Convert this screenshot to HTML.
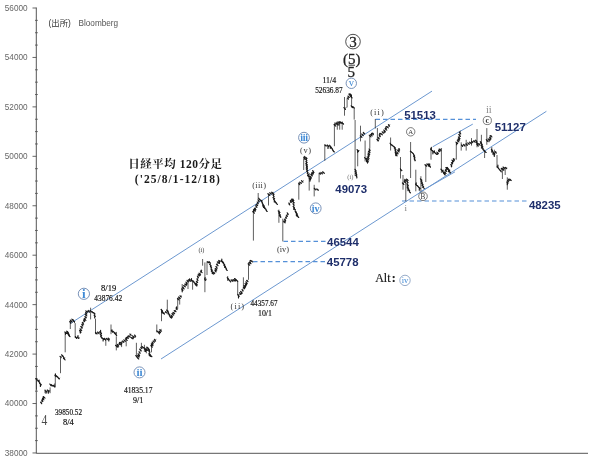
<!DOCTYPE html>
<html><head><meta charset="utf-8"><title>日経平均 120分足</title>
<style>
html,body{margin:0;padding:0;background:#fff}
svg{display:block}
.ax{font-family:"Liberation Sans",sans-serif;font-size:8.2px;fill:#666}
.src{font-family:"Liberation Sans","Noto Sans CJK JP",sans-serif;font-size:8px;fill:#555}
.ttl{font-family:"Liberation Serif","Noto Serif CJK SC",serif;font-size:11.5px;font-weight:bold;fill:#1a1a1a}
.num{font-family:"Liberation Serif","Noto Serif CJK SC",serif;font-size:9px;fill:#111;stroke:#111;stroke-width:0.18px}
.nv{font-family:"Liberation Sans",sans-serif;font-weight:bold;font-size:11.4px;fill:#1f2f6b}
.big{font-family:"Liberation Serif",serif;fill:#222;stroke:#222;stroke-width:0.3px}
.g4{font-family:"Liberation Serif",serif;font-size:15.5px;fill:#4a4a4a}
.sm{font-family:"Liberation Serif",serif;font-size:8.4px;fill:#383838}
.bl{font-family:"Liberation Serif",serif;font-weight:bold;fill:#3f8ad6}
</style></head><body>
<svg width="604" height="465" viewBox="0 0 604 465">
<rect width="604" height="465" fill="#fff"/>
<g fill="none">
<path d="M36.3 7.6V453.3H588" stroke="#555" stroke-width="1"/>
<path d="M32.5 8.00H36.5M35 20.36H37.8M35 32.72H37.8M35 45.08H37.8M32.5 57.44H36.5M35 69.80H37.8M35 82.16H37.8M35 94.52H37.8M32.5 106.88H36.5M35 119.24H37.8M35 131.60H37.8M35 143.96H37.8M32.5 156.32H36.5M35 168.68H37.8M35 181.04H37.8M35 193.40H37.8M32.5 205.76H36.5M35 218.12H37.8M35 230.48H37.8M35 242.84H37.8M32.5 255.20H36.5M35 267.56H37.8M35 279.92H37.8M35 292.28H37.8M32.5 304.64H36.5M35 317.00H37.8M35 329.36H37.8M35 341.72H37.8M32.5 354.08H36.5M35 366.44H37.8M35 378.80H37.8M35 391.16H37.8M32.5 403.52H36.5M35 415.88H37.8M35 428.24H37.8M35 440.60H37.8M32.5 452.96H36.5" stroke="#555" stroke-width="0.9"/>
<g stroke="#6c98d0" stroke-width="1">
<path d="M70 323.7L432 91.1"/>
<path d="M161 359L546.4 111.3"/>
<path d="M432.7 146.8L472.8 124.1"/>
<path d="M419 192.5L455 171.8"/>
</g>
<g stroke="#5590d8" stroke-width="1.2" stroke-dasharray="4.5 3">
<path d="M375.5 119.3H476"/>
<path d="M402 201H528"/>
<path d="M283.5 241.3H327"/>
<path d="M253 261.7H327"/>
</g>
<path d="M36.4 378V389.6M45 389.4V393.2M50.1 387.4V393.2M54.6 383.5V387.4M55.3 375.8V387.4M60.5 357.5V373.2M65.2 332.9V352.3M70.3 319.4V329M75.2 323.2V338M90.6 307.7V319.4M95.5 318.7V334.2M105.8 338.7V345.8M111 324.5V334.2M116.3 336.4V350.4M121.6 341.3V347.1M126.2 337.2V346.3M136.4 342.8V356.7M141.4 342.8V347.8M144.4 344.8V351.8M146.4 346.8V353.3M151.5 342.8V352.3M156.8 324.5V332.4M161.5 308.8V321.2M167.3 299.7V312M177.7 298.8V308.8M179.7 298V304.6M182.2 284V290.6M188 279.8V289M192.6 280.6V289.7M202.6 259V265.7M204.9 262.4V292.2M207 262V275M227.7 276V281M237.7 281.4V295.5M243.4 277.3V288M248.5 262.4V279.7M253.4 209.6V240.6M258.2 193V199.7M268.5 193.9V205.5M278.9 209.6V222.8M282.8 218.7V241.4M298.8 184V199.7M303.7 159V170M309.2 173V190.6M314.2 184.8V196.4M319.1 173V182.3M324.8 144.6V160.8M334.4 124.7V146.2M337.3 121.4V129.7M339.7 121.4V129.7M342.2 121.4V129.7M344.5 97V115.7M347.1 98.3V107.4M351.6 97V107.4M354.2 107.4V119.6M355.1 120V176M357.7 149.7V166.3M360.5 125.7V141.4M365.1 140.5V161.4M369.8 135.6V148.5M375.3 119V128.5M377.4 128V141.4M390.6 137.5V150.5M400.5 157V178.5M403 175V189.7M405.8 181.4V201.3M410.6 142V178M415.8 169.7V191.3M420.9 176.2V191.3M425.8 164.7V182M431 148V159.7M441.4 148V172.9M456.3 143V159.7M461.2 142.3V150.6M466.2 139.8V150.6M471.5 138.1V145.6M477 129V147.3M481.4 134.8V148.9M484.6 149.7V158M486.8 128.1V144.8M491.8 147V153M494.4 149.7V157M497 155V167.7M502.4 168V179M505.2 168V175M507.3 177.3V189.7" stroke="#2a2a2a" stroke-width="0.75"/>
<path d="M36.2 379.0L38.5 381.0L40.5 384.2M41.1 402.9L44.3 397.1M45.0 391.3L50.1 390.6M50.1 384.8L54.6 386.1M55.3 375.8L57.2 376.5L59.2 379.0L59.8 377.7M60.5 357.1L62.4 355.2L64.3 359.0L65.0 357.7M65.2 332.9L67.7 331.6L69.7 336.8M70.3 322.6L72.9 319.4L74.8 323.2M75.2 337.4L80.0 338.0M80.0 332.3L83.2 322.6L85.2 319.4L86.5 311.6L90.3 311.0L94.2 312.9L94.8 316.1M95.5 333.5L100.6 332.3L101.3 337.4L104.5 339.4L109.7 338.7M111.0 331.0L113.5 331.6L116.1 334.8M116.3 346.3L126.2 339.7L131.2 333.9M131.2 338.0L135.3 335.5M136.4 356.2L137.9 358.2L139.4 352.8L141.4 347.8M141.9 346.8L144.4 347.8L145.9 350.8L147.9 347.8L149.4 351.8L149.8 356.2L151.3 355.7M151.5 346.8L152.8 342.8L154.8 340.3L156.3 339.4M156.8 330.9L159.3 333.4L161.3 328.9M161.5 309.6L163.2 313.7L166.5 312.0M167.3 310.4L170.6 317.9L173.1 313.7L177.3 308.0M177.7 299.7L181.4 295.5M182.2 289.7L188.0 280.6L193.0 280.6L196.3 285.6L198.0 276.5L202.0 270.7M204.9 280.0L207.0 279.0M207.0 262.4L209.5 261.6L212.8 274.0L215.3 271.5L218.6 260.8L222.8 261.6L227.0 270.7M227.7 278.0L230.2 281.5L236.0 279.0L237.3 281.4M238.4 295.5L242.2 291.3L243.4 288.0M243.9 288.0L248.0 279.7M248.5 264.8L252.2 260.7M253.2 213.0L255.7 208.0L259.0 199.7M259.0 198.8L261.5 201.3L264.8 208.0L267.3 212.0M268.5 194.7L273.1 192.2L273.9 199.7L277.3 204.6M278.9 211.3L280.6 217.9M283.9 222.8L288.0 213.0M288.8 204.6L293.0 198.8L293.8 207.0L298.0 217.0M298.8 184.0L303.7 180.6M303.7 159.0L306.2 157.5L307.0 170.7L308.7 177.3M309.5 179.8L313.7 170.7M314.5 189.0L318.6 189.7M319.1 174.0L323.6 172.4M324.8 145.4L330.6 146.2L334.0 152.0M334.4 125.5L339.7 122.2L343.9 123.9M344.5 108.6L346.5 107.4M347.7 99.0L349.0 96.0L350.3 93.8L351.6 97.7M351.6 106.7L353.8 107.4M355.5 169.6L356.8 178.7M357.7 150.5L359.5 150.5M360.5 137.3L364.0 133.0M365.3 158.0L367.4 161.3L369.8 148.9M369.8 136.5L374.0 133.0M377.5 140.6L379.8 135.6L384.7 130.7L389.9 124.4M390.5 144.0L394.9 147.5L396.3 156.0L399.6 148.0M400.5 169.6L402.5 170.5M403.0 184.0L407.2 179.2L407.8 188.0L410.3 193.0M410.8 151.5L414.0 154.3L415.0 161.4M416.0 184.7L420.2 188.8M421.0 179.7L423.5 188.0M425.8 165.6L428.5 163.8L430.6 168.0M431.0 149.7L436.4 153.9L441.4 148.9M441.4 169.6L444.7 174.6L447.2 167.0L450.5 173.7M451.3 165.5L453.0 159.7L455.4 158.8M456.3 143.0L458.7 140.6L460.4 130.7M461.2 145.6L466.2 144.8L471.2 142.3L476.1 140.6L477.8 145.6L481.1 142.3L482.7 148.9M483.2 149.7L486.5 153.0M486.8 140.6L489.9 138.9L491.4 135.2M491.8 149.7L494.0 153.8L496.4 152.0M497.3 166.8L500.6 171.0L503.0 167.6L507.3 168.0M507.3 183.0L509.0 179.0L511.4 180.6" stroke="#1a1a1a" stroke-width="0.7" stroke-linejoin="round"/>
<path d="M35.9 378.6L37.0 380.0M37.5 380.0L38.5 381.3M38.2 381.4L39.9 382.6M39.1 381.9v-1.7M39.5 383.3L41.3 384.8M40.4 384.1v2.4M40.6 402.1L41.7 403.7M41.7 400.1L42.8 401.6M42.3 400.8v-1.7M42.6 398.3L43.9 399.8M43.3 399.0v-2.4M43.3 396.5L45.0 398.1M45.2 390.6L46.8 391.9M46.0 391.2v2.0M47.4 390.0L49.1 391.6M48.3 390.9v2.3M49.8 384.0L51.2 385.9M51.3 384.6L53.1 386.2M53.6 385.3L54.6 386.8M54.9 375.3L56.0 376.7M55.4 375.8v-1.9M56.2 375.7L57.9 377.2M58.0 377.7L59.3 379.0M60.0 356.4L61.2 357.6M61.5 354.8L62.9 355.9M62.5 355.9L64.0 357.7M63.5 358.4L65.1 359.9M64.8 332.0L66.3 333.3M65.5 332.7v1.6M66.7 331.2L67.7 332.4M67.2 331.9v1.6M67.6 331.7L68.7 333.5M68.1 332.7v1.9M68.1 333.4L69.4 335.4M68.8 335.5L70.0 336.7M69.8 321.6L70.9 323.3M70.6 320.5L72.2 322.2M71.8 319.1L73.4 320.3M73.0 320.5L74.6 321.8M75.4 336.6L76.6 338.4M77.4 337.2L78.6 338.3M78.0 337.8v-2.3M79.6 330.4L80.9 332.4M80.3 331.4v1.7M80.0 328.8L81.7 330.6M80.8 326.5L82.4 328.0M81.8 324.3L82.9 325.9M82.3 322.4L83.6 324.3M83.6 320.2L84.7 321.6M84.2 321.0v-2.5M84.4 318.6L85.9 320.5M84.7 316.8L86.4 317.8M85.1 314.2L86.8 315.9M85.6 312.7L86.8 314.0M85.8 310.9L87.6 312.1M88.1 310.4L89.4 312.2M90.3 310.5L91.4 312.0M92.0 311.6L93.1 313.0M93.6 312.6L95.0 314.0M94.1 315.2L95.3 316.5M94.7 315.7v2.3M95.5 332.4L97.0 334.0M97.6 332.0L99.1 333.6M99.8 331.7L101.5 333.5M100.6 332.5v-2.1M100.3 334.4L101.6 335.5M101.0 335.0v1.8M100.7 336.3L101.8 338.2M102.2 338.0L104.0 339.5M103.1 338.5v2.5M104.4 338.3L105.6 340.2M106.5 338.4L107.8 339.6M108.3 338.0L109.3 339.5M108.8 338.8v2.2M111.4 330.3L112.5 332.2M112.0 331.2v-1.5M112.9 331.3L114.6 332.6M114.2 332.8L115.7 334.3M115.4 334.2L116.7 335.6M116.1 334.8v-2.5M115.5 345.3L117.2 346.8M117.4 344.4L118.6 346.1M118.0 345.1v2.1M119.0 343.6L120.1 344.7M119.5 344.1v-1.8M120.5 342.3L121.8 343.6M121.2 343.1v1.8M122.4 341.0L123.8 342.3M123.9 339.8L125.3 341.5M125.4 338.8L127.2 340.4M126.3 339.6v-2.4M127.3 337.2L128.3 338.5M127.8 337.9v-1.6M128.2 335.8L129.9 336.9M129.9 334.0L131.2 335.3M130.7 337.1L132.5 338.7M132.6 335.8L133.9 337.4M133.2 336.8v1.9M134.6 335.0L135.6 336.4M135.1 335.6v1.6M135.7 355.6L137.1 356.8M137.0 357.3L138.7 359.0M137.6 355.4L139.2 357.0M138.1 353.8L139.6 355.6M138.9 351.8L140.3 353.1M139.6 349.2L141.3 350.9M140.8 347.4L141.9 348.5M141.9 346.3L143.4 347.9M143.7 347.6L145.3 349.0M144.7 349.2L146.3 350.5M145.5 350.0v1.6M145.8 349.0L147.6 350.4M147.0 347.1L148.7 348.7M148.1 349.3L149.3 350.4M148.8 350.9L149.9 352.2M149.4 351.7v-2.2M148.9 353.3L150.3 354.7M148.9 354.8L150.7 356.4M150.1 355.1L151.9 356.7M150.8 345.6L152.3 347.2M151.6 346.6v-2.1M151.3 344.0L153.0 345.6M152.2 342.1L153.2 343.8M152.7 343.1v2.0M153.2 340.9L154.5 342.1M154.4 339.3L155.5 341.1M156.8 330.9L158.1 332.2M158.4 332.4L159.6 333.8M159.0 333.1v-1.6M159.3 331.0L160.5 332.6M159.8 329.6L161.5 331.2M161.1 309.5L162.6 311.2M161.8 310.4v2.3M162.2 311.8L163.3 313.3M163.2 312.7L164.4 314.1M165.5 311.6L166.7 313.0M166.5 310.0L168.2 311.2M167.5 311.3L168.8 313.3M168.1 312.3v1.7M168.3 313.6L169.5 314.7M169.3 315.5L170.6 317.1M170.2 316.9L171.4 318.1M170.9 315.2L172.6 316.8M171.7 316.0v1.8M172.0 313.5L173.6 315.2M172.9 312.3L174.6 313.7M174.2 310.5L176.0 311.7M176.0 308.0L177.1 309.6M176.6 309.0v-2.1M177.5 298.3L178.9 300.0M178.5 297.0L180.2 298.5M179.9 295.8L181.4 297.0M181.6 288.9L182.9 290.4M182.2 289.6v2.2M182.5 287.2L184.1 289.0M183.6 285.6L185.3 286.8M184.7 284.0L186.3 285.3M186.0 282.1L187.1 283.9M186.5 282.9v1.9M187.0 280.3L188.6 281.8M188.7 279.6L190.3 281.3M189.5 280.6v-1.7M190.9 279.6L192.0 281.3M191.5 280.6v-2.0M193.0 280.9L194.1 282.1M193.9 282.4L195.2 283.5M195.1 284.2L196.8 286.0M195.9 285.0v-1.7M196.0 283.4L197.3 284.8M196.4 281.4L197.6 282.5M196.9 278.9L198.0 280.4M197.4 276.1L198.4 277.8M198.2 274.3L199.5 275.9M199.0 273.2L200.6 274.8M199.8 273.9v1.5M200.4 271.1L202.1 272.6M201.3 271.8v-1.8M204.5 279.0L205.7 280.5M205.1 279.9v-2.3M207.2 261.6L208.6 262.7M209.1 261.8L210.4 263.1M209.6 264.3L211.2 265.8M210.4 266.4L211.6 267.9M210.8 269.0L212.4 270.1M211.6 269.5v1.6M211.3 271.0L213.0 272.6M212.0 273.0L213.4 274.1M213.2 272.2L214.7 273.6M214.9 270.1L216.0 271.9M215.2 268.4L216.8 269.9M216.0 269.2v1.8M215.9 266.5L217.2 268.2M216.5 264.2L218.1 265.6M217.3 261.9L218.9 263.2M218.8 260.4L219.9 261.6M219.4 260.9v2.6M221.2 260.7L222.5 262.4M221.8 261.4v-2.4M222.6 261.6L223.7 263.2M223.2 263.4L224.7 264.6M223.9 265.2L225.5 266.4M224.7 265.7v1.8M225.2 267.1L226.3 268.4M226.1 269.1L227.2 270.5M227.2 277.6L228.5 279.2M228.1 279.2L229.9 280.8M229.6 280.5L230.6 282.0M231.1 279.8L232.9 281.4M232.9 279.5L234.5 280.8M234.6 278.5L236.0 280.0M235.3 279.3v1.8M236.0 280.0L237.7 281.3M237.8 294.4L239.2 296.4M238.5 295.4v2.5M239.6 292.7L240.7 294.5M240.6 291.4L242.3 293.1M241.4 292.1v1.7M242.0 289.6L243.2 290.9M243.4 287.2L244.4 288.8M244.0 285.5L245.5 287.1M244.7 286.3v2.0M245.0 283.6L246.3 285.2M245.6 284.5v2.2M245.8 281.9L247.2 283.7M246.5 282.8v2.0M246.6 280.4L248.0 281.7M248.1 263.8L249.7 265.2M249.2 262.3L251.0 263.7M250.1 263.0v-2.4M250.8 260.4L252.6 261.9M252.7 211.6L254.5 213.1M253.6 212.2v-1.9M253.6 209.6L255.3 211.2M254.4 210.5v-2.1M254.7 208.2L255.9 209.6M255.3 208.8v1.7M255.7 205.7L256.9 207.5M256.3 204.1L257.6 205.7M257.2 202.0L258.3 203.7M258.0 200.0L259.2 201.6M258.7 198.2L259.8 199.8M259.7 199.4L261.2 200.9M261.4 201.2L262.4 202.7M261.9 202.0v-1.7M262.2 203.1L263.3 204.8M262.8 203.9v2.2M262.9 204.7L264.2 206.0M263.5 205.4v2.1M263.8 206.3L264.9 207.8M264.5 208.2L266.0 209.3M266.1 210.1L267.1 211.5M267.9 193.7L269.7 195.3M269.8 192.7L271.2 194.1M271.7 192.2L272.7 193.6M272.5 193.1L274.0 194.3M272.9 195.0L274.1 196.5M273.5 196.0v-1.6M272.9 197.5L274.6 198.8M273.7 199.5L274.9 201.0M274.3 200.3v1.8M274.6 201.1L276.3 202.8M275.8 202.8L277.4 204.3M278.2 210.9L279.9 212.5M279.1 211.9v1.8M279.0 213.2L280.3 215.1M279.4 215.5L280.9 217.1M283.5 221.2L285.1 222.8M284.5 219.1L285.7 220.8M285.1 220.0v2.2M285.5 217.1L286.6 218.2M286.3 215.2L287.4 216.3M287.2 212.8L288.2 214.6M288.8 203.0L289.8 204.9M290.2 200.9L291.3 202.4M290.8 201.9v-1.5M291.4 199.1L292.9 200.8M292.2 199.9v1.6M292.4 199.2L293.8 200.4M293.1 199.8v1.8M292.4 201.4L294.2 202.8M292.9 203.8L294.2 205.1M293.1 206.3L294.5 207.8M293.8 207.0v2.4M294.1 208.6L295.3 209.7M295.0 211.1L296.4 212.3M295.6 212.6L297.3 214.0M296.4 213.3v2.5M296.6 214.2L297.7 215.8M297.1 215.8L298.7 217.5M298.6 183.1L299.7 184.7M299.7 182.2L301.4 183.4M301.5 180.7L302.9 182.2M303.7 157.8L305.0 159.3M304.3 158.6v-2.4M305.4 157.1L307.0 158.4M305.7 158.8L306.9 160.5M306.3 159.5v-1.8M305.9 161.4L307.1 162.5M306.5 162.0v2.1M305.8 163.4L307.4 164.9M306.6 164.0v2.6M305.9 165.0L307.5 166.9M306.2 167.1L307.4 168.4M306.2 168.9L307.7 170.5M306.6 171.1L308.0 172.4M307.2 173.2L308.6 174.8M307.5 175.5L309.3 177.0M309.2 178.2L310.5 179.8M309.9 179.0v2.2M310.0 176.2L311.5 178.0M310.7 177.1v2.0M310.8 174.4L312.5 175.9M311.7 175.1v-2.2M312.0 172.5L313.0 174.2M312.6 170.7L314.0 172.5M313.3 171.6v2.1M314.3 188.3L315.7 190.0M316.9 188.9L318.2 190.4M319.4 173.0L320.6 174.2M320.9 172.4L322.4 173.8M322.6 171.8L324.3 173.3M325.0 144.8L326.1 146.1M327.3 145.0L328.7 146.6M328.0 145.8v2.6M329.6 145.2L330.9 147.1M330.3 146.2v2.1M331.1 147.3L332.3 148.9M332.1 149.0L333.1 150.3M332.9 150.7L334.3 152.0M334.1 124.5L335.8 126.1M335.0 125.2v-2.4M336.2 123.3L337.8 124.8M337.0 123.9v-1.5M338.4 122.0L339.5 123.2M338.9 122.7v2.4M340.0 121.6L341.1 123.5M341.8 122.5L343.5 124.2M343.9 107.7L345.5 109.3M347.4 97.9L348.5 99.1M347.9 96.1L349.3 97.5M348.8 94.0L350.5 95.4M349.9 93.8L351.2 95.6M350.6 96.5L352.1 97.9M351.4 97.1v-2.2M351.2 105.8L352.6 107.6M352.9 106.5L354.2 108.1M355.0 169.3L356.2 171.0M355.2 171.4L356.5 173.0M355.5 173.4L356.9 174.8M355.8 175.5L357.1 177.1M356.5 176.4v-2.1M357.0 149.6L358.5 151.4M357.7 150.5v1.8M360.3 135.8L361.9 137.4M361.7 134.0L363.3 135.7M363.3 132.4L364.6 133.9M364.5 157.6L366.3 159.0M365.8 159.0L367.2 160.8M366.5 159.9v1.8M366.6 160.3L368.3 161.8M367.5 161.0v2.1M366.9 158.3L368.7 160.0M367.2 156.9L369.0 158.4M367.8 154.8L369.3 156.0M368.5 155.5v1.7M368.0 153.0L369.7 154.4M368.9 153.8v2.5M368.4 151.3L370.0 152.7M369.2 152.1v-1.6M369.1 148.9L370.2 150.7M369.3 135.2L371.0 136.8M370.6 134.6L372.3 135.9M371.5 135.1v-1.8M372.4 133.0L373.4 134.7M376.9 139.4L378.5 140.8M378.0 137.3L379.3 138.8M379.1 134.9L380.3 136.6M379.7 135.8v-2.6M380.5 133.4L382.3 134.8M382.1 131.8L383.8 133.2M383.8 130.0L385.4 131.8M384.6 130.8v1.5M385.1 128.4L386.8 130.1M385.9 129.2v-2.4M386.7 126.5L388.3 127.9M388.4 124.6L389.5 126.2M390.1 143.2L391.3 145.1M391.9 144.8L393.1 146.2M393.5 146.3L395.2 147.6M394.2 147.9L396.0 149.6M394.9 150.0L396.0 151.4M395.4 150.8v2.3M395.2 152.3L396.4 153.7M395.8 153.0v2.6M395.5 153.9L396.7 155.6M396.1 154.6L397.1 155.8M396.9 152.3L398.1 153.8M397.5 150.1L399.1 152.0M398.5 148.8L399.6 149.9M399.1 149.3v1.6M400.4 168.8L401.4 170.7M402.4 182.9L403.8 184.5M404.1 181.1L405.4 182.7M404.8 182.0v-2.6M405.4 180.0L406.7 181.2M406.4 179.0L408.1 180.4M406.8 181.2L408.0 182.7M406.8 183.9L408.3 185.4M407.1 185.9L408.2 187.2M407.2 187.7L408.7 188.9M408.0 188.3v2.3M407.9 188.9L409.6 190.5M409.3 191.5L410.4 192.8M410.4 151.2L412.1 152.6M412.5 152.8L413.5 154.0M413.5 154.6L414.7 156.1M413.7 156.3L415.0 157.9M414.4 157.0v2.0M414.2 158.9L415.2 160.4M415.5 184.1L416.8 185.5M416.2 184.8v-1.9M417.4 185.7L418.6 187.2M418.4 187.0L420.2 188.5M419.3 187.9v2.4M420.4 178.8L421.6 180.5M421.2 181.5L422.3 182.9M421.7 182.1v-2.3M421.5 183.4L423.0 184.5M422.0 185.2L423.6 186.6M422.7 187.3L424.3 188.4M425.0 164.7L426.7 166.2M426.9 163.9L428.3 165.3M428.3 164.0L429.5 165.5M428.9 164.6v1.9M429.0 165.4L430.4 166.8M429.7 166.1v-2.3M430.5 149.0L432.1 150.6M431.3 149.9v-2.5M432.2 150.5L433.7 152.0M432.9 151.2v2.6M433.6 151.8L435.2 153.0M434.4 152.4v-1.6M435.2 153.0L436.6 154.3M436.8 152.1L438.4 153.6M437.6 152.7v1.6M438.5 150.5L439.8 151.7M439.1 151.2v-2.2M439.9 149.1L441.0 150.8M440.9 169.2L442.3 170.8M442.4 171.2L443.6 172.7M443.0 172.1v-2.0M443.5 173.1L445.2 175.0M444.4 174.1v-2.1M444.5 172.2L446.0 173.5M445.3 170.2L446.7 171.4M446.0 170.7v-1.7M445.9 167.5L447.6 169.3M447.0 167.4L448.2 168.7M447.7 168.9L449.2 170.6M448.5 169.6v2.1M448.9 171.3L450.4 172.6M449.6 171.9v-2.2M450.8 164.5L451.9 166.0M451.4 165.2v1.6M451.4 162.6L452.5 163.9M451.9 160.1L453.4 161.7M452.6 160.9v2.3M453.3 158.6L454.5 160.1M453.9 159.4v1.7M455.9 142.1L457.6 143.3M456.7 142.6v2.1M457.3 140.2L458.9 141.9M458.1 141.2v-1.6M458.2 138.8L459.6 140.1M458.4 137.0L460.0 138.6M459.2 137.6v1.9M458.8 134.5L460.4 136.3M459.3 132.1L460.7 133.9M461.6 144.9L462.6 146.4M463.6 144.4L465.0 146.1M466.0 143.6L467.3 145.4M467.9 142.8L469.2 144.3M469.5 142.1L471.2 143.6M471.7 141.3L472.8 142.6M473.8 140.6L475.0 142.2M475.6 140.2L477.0 141.8M476.2 142.3L477.6 143.6M476.9 144.3L478.3 146.1M478.3 143.6L479.8 145.0M480.3 141.7L481.4 143.3M480.7 143.2L482.4 144.8M481.1 145.3L482.9 146.9M482.0 146.1v-2.1M481.6 147.2L483.3 148.9M482.9 149.5L484.7 151.2M484.6 151.2L486.0 152.4M486.3 139.7L487.6 141.3M488.1 138.9L489.8 140.1M489.0 139.4v2.3M489.5 137.2L491.0 138.9M490.2 138.1v2.0M490.1 135.5L491.9 137.0M491.3 149.2L492.4 150.7M491.9 149.8v1.7M492.5 151.2L493.5 152.9M493.0 152.0v2.3M493.6 153.0L494.8 154.2M494.2 153.6v2.5M495.3 151.7L496.3 153.1M497.3 166.8L498.5 168.4M497.9 167.6v-2.5M498.5 168.2L499.7 170.0M500.1 170.1L501.3 171.8M501.2 168.3L502.9 169.6M503.1 167.0L504.4 168.3M503.8 167.7v2.6M505.3 167.3L506.6 168.6M506.8 182.0L507.9 183.6M507.3 182.9v1.8M507.5 180.5L508.6 182.0M508.2 179.0L509.3 180.6M509.8 179.1L511.1 180.5" stroke="#1a1a1a" stroke-width="1.15" stroke-linecap="round"/>
</g>
<text x="27.6" y="10.9" text-anchor="end" class="ax">56000</text><text x="27.6" y="60.3" text-anchor="end" class="ax">54000</text><text x="27.6" y="109.8" text-anchor="end" class="ax">52000</text><text x="27.6" y="159.2" text-anchor="end" class="ax">50000</text><text x="27.6" y="208.7" text-anchor="end" class="ax">48000</text><text x="27.6" y="258.1" text-anchor="end" class="ax">46000</text><text x="27.6" y="307.5" text-anchor="end" class="ax">44000</text><text x="27.6" y="357.0" text-anchor="end" class="ax">42000</text><text x="27.6" y="406.4" text-anchor="end" class="ax">40000</text><text x="27.6" y="455.9" text-anchor="end" class="ax">38000</text>
<text x="48.5" y="26" class="src" style="font-size:8.4px;fill:#333">(出所)</text><text x="78.5" y="26" class="src" style="font-size:8.2px">Bloomberg</text>
<text x="128.3" y="167.5" class="ttl" textLength="93.6" lengthAdjust="spacing">日経平均 120分足</text>
<text x="134.8" y="182.5" class="ttl" textLength="85" lengthAdjust="spacing">('25/8/1-12/18)</text>

<text x="55" y="414.8" class="num" textLength="27.0" lengthAdjust="spacingAndGlyphs">39850.52</text>
<text x="63" y="425.2" class="num" textLength="10.8" lengthAdjust="spacingAndGlyphs">8/4</text>
<text x="101" y="290.5" class="num" textLength="15.2" lengthAdjust="spacingAndGlyphs">8/19</text>
<text x="94.3" y="301.3" class="num" textLength="27.8" lengthAdjust="spacingAndGlyphs">43876.42</text>
<text x="123.9" y="392.8" class="num" textLength="28.6" lengthAdjust="spacingAndGlyphs">41835.17</text>
<text x="133" y="402.7" class="num" textLength="10.3" lengthAdjust="spacingAndGlyphs">9/1</text>
<text x="250.5" y="306.3" class="num" textLength="27.0" lengthAdjust="spacingAndGlyphs">44357.67</text>
<text x="258" y="316.2" class="num" textLength="14.0" lengthAdjust="spacingAndGlyphs">10/1</text>
<text x="322.4" y="83" class="num" textLength="13.7" lengthAdjust="spacingAndGlyphs">11/4</text>
<text x="315.2" y="93" class="num" textLength="27.5" lengthAdjust="spacingAndGlyphs">52636.87</text>

<text x="41.4" y="424.8" class="g4" textLength="5.8" lengthAdjust="spacingAndGlyphs">4</text>
<circle cx="353" cy="41.6" r="7.3" fill="none" stroke="#222" stroke-width="0.8"/>
<text x="353" y="46.6" text-anchor="middle" class="big" font-size="15">3</text>
<text x="351.7" y="63.5" text-anchor="middle" class="big" font-size="15">(5)</text>
<path d="M348.6 65.2H355" stroke="#222" stroke-width="0.9"/>
<text x="351.3" y="77.2" text-anchor="middle" class="big" font-size="15">5</text>

<g fill="none" stroke="#6a86b0" stroke-width="0.9">
<circle cx="83.9" cy="293.8" r="5.6"/>
<circle cx="139.5" cy="372.4" r="5.5"/>
<circle cx="304" cy="137.7" r="5.4"/>
<circle cx="315.7" cy="208.3" r="5.4"/>
<circle cx="351.3" cy="83.3" r="5.2"/>
<circle cx="405" cy="280.4" r="5.2" stroke-width="0.7"/>
</g>
<text x="83.9" y="298" text-anchor="middle" class="bl" font-size="13">i</text>
<text x="139.5" y="376" text-anchor="middle" class="bl" font-size="11">ii</text>
<text x="304" y="141" text-anchor="middle" class="bl" font-size="10" letter-spacing="-0.3">iii</text>
<text x="315.7" y="211.6" text-anchor="middle" class="bl" font-size="10">iv</text>
<text x="351.3" y="86.2" text-anchor="middle" class="bl" font-size="10.5" style="font-weight:normal">v</text>
<text x="405" y="283" text-anchor="middle" class="bl" font-size="8.5" style="font-weight:normal">iv</text>

<text x="201.5" y="252" text-anchor="middle" class="sm" style="font-size:6.3px">(i)</text>
<text x="237.9" y="308.8" text-anchor="middle" class="sm" letter-spacing="1.1">(ii)</text>
<text x="259.3" y="187.5" text-anchor="middle" class="sm" letter-spacing="0.3">(iii)</text>
<text x="283" y="251.5" text-anchor="middle" class="sm">(iv)</text>
<text x="305.8" y="152.8" text-anchor="middle" class="sm" letter-spacing="0.6">(v)</text>
<text x="350.4" y="178.8" text-anchor="middle" class="sm" style="font-size:6.5px;fill:#707070">(i)</text>
<text x="377.5" y="115" text-anchor="middle" class="sm" letter-spacing="1.1">(ii)</text>
<text x="405.8" y="210.6" text-anchor="middle" class="sm" style="font-size:9px;fill:#808080">i</text>
<text x="488.8" y="113.3" text-anchor="middle" class="sm" style="font-size:10.5px;fill:#8a8a8a">ii</text>
<g fill="none" stroke="#444" stroke-width="0.7">
<circle cx="410.7" cy="131.8" r="4.2"/>
<circle cx="423" cy="196.3" r="4.3"/>
<circle cx="487.3" cy="120.5" r="4.1"/>
</g>
<text x="410.7" y="134.1" text-anchor="middle" class="sm" style="font-size:6.8px">A</text>
<text x="423" y="198.8" text-anchor="middle" class="sm" style="font-size:7.2px">B</text>
<text x="487.3" y="122.6" text-anchor="middle" class="sm" font-weight="bold" style="font-size:8px;fill:#333">c</text>

<text x="420" y="119.3" text-anchor="middle" class="nv">51513</text>
<text x="510.2" y="131" text-anchor="middle" class="nv">51127</text>
<text x="351.2" y="193.2" text-anchor="middle" class="nv">49073</text>
<text x="544.8" y="208.5" text-anchor="middle" class="nv">48235</text>
<text x="342.9" y="245.5" text-anchor="middle" class="nv">46544</text>
<text x="342.7" y="265.9" text-anchor="middle" class="nv">45778</text>
<text x="375.2" y="282.3" class="big" font-size="12" style="fill:#111;stroke-width:0.15px">Alt<tspan dx="1.2" dy="-0.6" font-weight="bold">:</tspan></text>
</svg>
</body></html>
